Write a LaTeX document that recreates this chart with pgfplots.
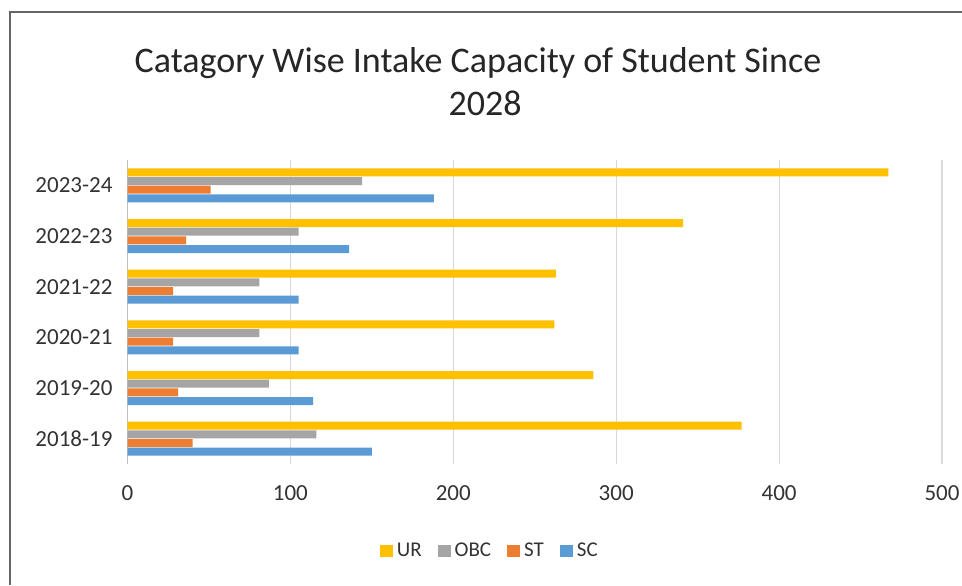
\documentclass[border=0pt]{standalone}
\usepackage{fontspec}
\setmainfont{Carlito}
\usepackage{pgfplots}
\usepackage{pgfplotstable}
\pgfplotsset{compat=1.18}

\definecolor{urc}{HTML}{FFC000}
\definecolor{obcc}{HTML}{A5A5A5}
\definecolor{stc}{HTML}{ED7D31}
\definecolor{scc}{HTML}{5B9BD5}

% idx: 0 = 2018-19 ... 5 = 2023-24
\pgfplotstableread{
idx UR  OBC ST SC
0   377 116 40 150
1   286 87  31 114
2   262 81  28 105
3   263 81  28 105
4   341 105 36 136
5   467 144 51 188
}\intake

\begin{document}
\begin{tikzpicture}
\useasboundingbox (0,0) rectangle (481pt,-292.5pt);
\draw[black!60, line width=1pt] (5pt,-292.5pt) -- (5pt,-6pt) -- (481pt,-6pt);
\node[anchor=base, font=\fontsize{18}{22}\selectfont, text=black!85] at (239pt,-36pt)
  {Catagory Wise Intake Capacity of Student Since};
\node[anchor=base, font=\fontsize{18}{22}\selectfont, text=black!85] at (242.5pt,-57.5pt)
  {2028};
\begin{axis}[
    at={(63.75pt,-232pt)}, anchor=south west,
    scale only axis,
    width=407.25pt, height=152pt,
    xbar, bar width=4pt,
    xmin=0, xmax=500,
    ymin=-0.5, ymax=5.5,
    xtick={0,100,...,500},
    ytick={0,1,2,3,4,5},
    yticklabels={2018-19,2019-20,2020-21,2021-22,2022-23,2023-24},
    /pgf/number format/assume math mode=true,
    ticklabel style={font=\fontsize{11.5}{13}\selectfont, text=black!80},
    xticklabel style={yshift=-7pt},
    yticklabel style={xshift=-4pt},
    major tick length=0pt,
    axis x line*=bottom, x axis line style={draw=none},
    axis y line*=left, y axis line style={draw=black!25, line width=0.6pt},
    xmajorgrids, grid style={black!15, line width=0.6pt},
    legend style={at={(0.446,-0.286)}, anchor=center, draw=none, fill=none,
        font=\fontsize{10.5}{12}\selectfont, text=black!80,
        legend columns=4, /tikz/every even column/.append style={column sep=6pt}},
    legend image code/.code={\fill[#1] (0pt,-3pt) rectangle (6.5pt,3pt);},
]
\addplot[fill=urc, draw=none, bar shift=6.5pt] table[x=UR, y=idx] {\intake};
\addplot[fill=obcc, draw=none, bar shift=2.17pt] table[x=OBC, y=idx] {\intake};
\addplot[fill=stc, draw=none, bar shift=-2.17pt] table[x=ST, y=idx] {\intake};
\addplot[fill=scc, draw=none, bar shift=-6.5pt] table[x=SC, y=idx] {\intake};
\legend{UR, OBC, ST, SC}
\end{axis}
\end{tikzpicture}
\end{document}
